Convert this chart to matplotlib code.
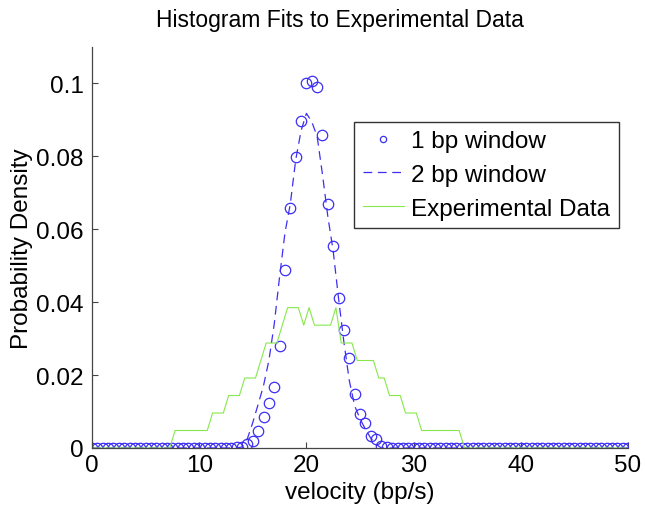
import numpy as np
import matplotlib
matplotlib.use("Agg")
import matplotlib.pyplot as plt

plt.rcParams['font.family'] = ['Liberation Sans', 'DejaVu Sans']

# velocity grids (bp/s)
vel_fit = np.arange(0, 50.5, 0.5)
vel_exp = np.arange(0.25, 50, 0.5)

# 1 bp window fit (circles)
fit_1bp = [
    0, 0, 0, 0, 0, 0, 0, 0, 0, 0, 0, 0, 0, 0, 0, 0, 0, 0, 0, 0, 0, 0, 0, 0, 0, 0, 0,
    0.0002, 0.0004, 0.0010, 0.0020, 0.0048, 0.0086, 0.0123, 0.0168, 0.0279, 0.0489,
    0.0658, 0.0797, 0.0897, 0.1000, 0.1006, 0.0990, 0.0859, 0.0668, 0.0554, 0.0412,
    0.0325, 0.0246, 0.0148, 0.0093, 0.0068, 0.0034, 0.0025, 0.0006, 0.0002,
    0, 0, 0, 0, 0, 0, 0, 0, 0, 0, 0, 0, 0, 0, 0, 0, 0, 0, 0, 0, 0, 0, 0,
    0, 0, 0, 0, 0, 0, 0, 0, 0, 0, 0, 0, 0, 0, 0, 0, 0, 0, 0, 0, 0, 0,
]

# 2 bp window fit (dashed)
fit_2bp = [
    0, 0, 0, 0, 0, 0, 0, 0, 0, 0, 0, 0, 0, 0, 0, 0, 0, 0, 0, 0, 0, 0, 0, 0, 0, 0, 0, 0,
    0.0003, 0.0026, 0.0070, 0.0120, 0.0171, 0.0240, 0.0340, 0.0470, 0.0590, 0.0670,
    0.0790, 0.0870, 0.0918, 0.0895, 0.0855, 0.0750, 0.0635, 0.0540, 0.0410, 0.0290,
    0.0185, 0.0116, 0.0080, 0.0052, 0.0027, 0.0010,
    0, 0, 0, 0, 0, 0, 0, 0, 0, 0, 0, 0, 0, 0, 0, 0, 0, 0, 0, 0, 0, 0, 0, 0,
    0, 0, 0, 0, 0, 0, 0, 0, 0, 0, 0, 0, 0, 0, 0, 0, 0, 0, 0, 0, 0, 0, 0,
]

# experimental histogram
exp_data = [
    0, 0, 0, 0, 0, 0, 0, 0, 0, 0, 0, 0, 0, 0, 0,
    0.0048, 0.0048, 0.0048, 0.0048, 0.0048, 0.0048, 0.0048,
    0.0096, 0.0096, 0.0096,
    0.0144, 0.0144, 0.0144,
    0.0192, 0.0192, 0.0192,
    0.0240,
    0.0288, 0.0288, 0.0288,
    0.0337,
    0.0385, 0.0385, 0.0385,
    0.0337, 0.0385,
    0.0337, 0.0337, 0.0337, 0.0337,
    0.0385,
    0.0288, 0.0288, 0.0288,
    0.0240, 0.0240, 0.0240, 0.0240,
    0.0192, 0.0192,
    0.0144, 0.0144, 0.0144,
    0.0096, 0.0096, 0.0096,
    0.0048, 0.0048, 0.0048, 0.0048, 0.0048, 0.0048, 0.0048, 0.0048,
    0, 0, 0, 0, 0, 0, 0, 0, 0, 0, 0, 0, 0, 0, 0, 0,
    0, 0, 0, 0, 0, 0, 0, 0, 0, 0, 0, 0, 0, 0, 0,
]

x_ticks = [0, 10, 20, 30, 40, 50]
y_ticks = [0, 0.02, 0.04, 0.06, 0.08, 0.1]
y_tick_labels = ["0", "0.02", "0.04", "0.06", "0.08", "0.1"]

blue = "#3d2ff2"
green = "#86e84c"
axis_col = "#444444"

fig = plt.figure(figsize=(6.45, 5.06), dpi=100)
ax = fig.add_axes([92 / 645, 1 - 449 / 506, 536 / 645, 401 / 506])

ax.plot(vel_fit, fit_1bp, "o", mfc="none", mec=blue, ms=7.5, mew=0.9,
        label="1 bp window")
ax.plot(vel_fit, fit_2bp, "--", color=blue, lw=0.9, dashes=(7, 4.5),
        label="2 bp window")
ax.plot(vel_exp, exp_data, "-", color=green, lw=0.8, label="Experimental Data")

ax.set_xlim(0, 50)
ax.set_ylim(0, 0.11)
ax.set_xticks(x_ticks)
ax.set_yticks(y_ticks)
ax.set_yticklabels(y_tick_labels)
for s in ["top", "right"]:
    ax.spines[s].set_visible(False)
for s in ["left", "bottom"]:
    ax.spines[s].set_color(axis_col)
    ax.spines[s].set_linewidth(0.9)
ax.tick_params(direction="in", length=4, width=0.8, color=axis_col,
               labelsize=17.5, pad=4)
ax.tick_params(axis="y", pad=6)

ax.set_xlabel("velocity (bp/s)", fontsize=17.5)
ax.set_ylabel("Probability Density", fontsize=17.5)
ax.xaxis.set_label_coords(0.5, -0.082)
ax.yaxis.set_label_coords(-0.11, 0.5)

fig.text(340 / 645, 1 - 21 / 506, "Histogram Fits to Experimental Data",
         ha="center", va="center", fontsize=16.5)

leg = ax.legend(loc="upper left", bbox_to_anchor=(354 / 645, 1 - 122.7 / 506),
                bbox_transform=fig.transFigure, fontsize=17.5, frameon=True,
                fancybox=False, edgecolor="black", borderaxespad=0,
                handlelength=1.7, handletextpad=0.3, borderpad=0.35,
                labelspacing=0.48, markerscale=0.6)
leg.get_frame().set_linewidth(1.0)

fig.savefig("out.png", dpi=100)
